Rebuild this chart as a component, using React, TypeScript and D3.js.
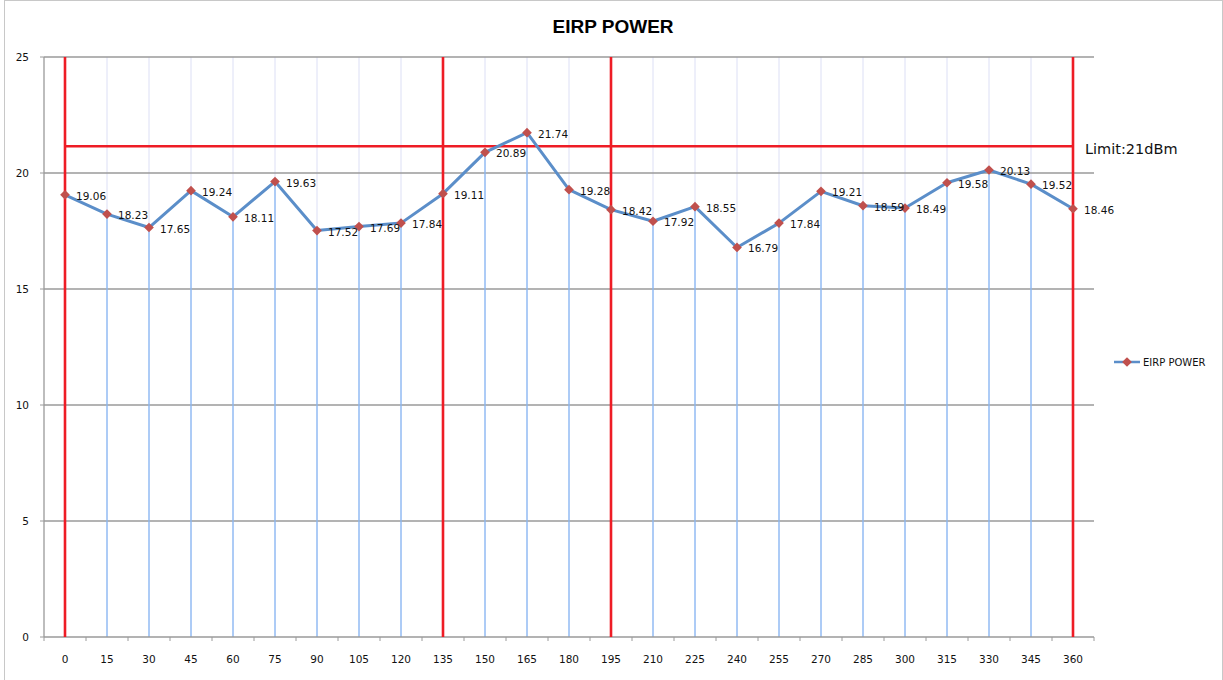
import React from 'react'
import * as d3 from 'd3'

const angles = ['0', '15', '30', '45', '60', '75', '90', '105', '120', '135', '150', '165', '180', '195', '210', '225', '240', '255', '270', '285', '300', '315', '330', '345', '360']
const power = [19.06, 18.23, 17.65, 19.24, 18.11, 19.63, 17.52, 17.69, 17.84, 19.11, 20.89, 21.74, 19.28, 18.42, 17.92, 18.55, 16.79, 17.84, 19.21, 18.59, 18.49, 19.58, 20.13, 19.52, 18.46]
const yTicks = [0, 5, 10, 15, 20, 25]
const redMarkers = ['0', '135', '195', '360']
const limitValue = 21.15
const limitLabel = 'Limit:21dBm'
const seriesName = 'EIRP POWER'

const W = 1223
const H = 680
const left = 44
const right = 1094
const top = 57
const bottom = 637

export default function App() {
  const x = d3.scaleBand().domain(angles).range([left, right]).padding(0)
  const y = d3.scaleLinear().domain([0, 25]).range([bottom, top])
  const cx = (a: string) => (x(a) as number) + x.bandwidth() / 2

  const line = d3.line<number>()
    .x((_, i) => cx(angles[i]))
    .y(d => y(d))

  const diamond = d3.symbol().type(d3.symbolDiamond2).size(60)()

  const font = '"DejaVu Sans", Tahoma, sans-serif'

  return (
    <svg width={W} height={H} style={{ position: 'absolute', left: 0, top: 0, background: '#fff' }} fontFamily={font}>
      <rect x={4.5} y={0.5} width={W - 5} height={H} fill="#fff" stroke="#c8c8c8" />
      <text x={613} y={33} textAnchor="middle" fontSize={19} fontWeight="bold" fill="#000" fontFamily='"Liberation Sans", Arial, sans-serif'>EIRP POWER</text>

      {/* faint vertical gridlines */}
      {angles.map(a => (
        <line key={'vg' + a} x1={cx(a)} x2={cx(a)} y1={top} y2={bottom} stroke="#dcdff5" strokeWidth={1} />
      ))}

      {/* horizontal gridlines */}
      {yTicks.filter(t => t > 0).map(t => (
        <line key={'hg' + t} x1={left} x2={right} y1={y(t)} y2={y(t)} stroke="#9a9a9a" strokeWidth={1.3} />
      ))}

      {/* drop lines */}
      {power.map((v, i) => (
        <line key={'dl' + i} x1={cx(angles[i])} x2={cx(angles[i])} y1={y(v)} y2={bottom} stroke="#8ab8f5" strokeWidth={1.3} />
      ))}

      {/* y axis */}
      <line x1={left} x2={left} y1={top} y2={bottom} stroke="#9a9a9a" strokeWidth={1.3} />
      {yTicks.map(t => (
        <g key={'yt' + t}>
          <line x1={left - 4} x2={left} y1={y(t)} y2={y(t)} stroke="#9a9a9a" />
          <text x={29} y={y(t) + 4} textAnchor="end" fontSize={10.5} fill="#111">{t}</text>
        </g>
      ))}

      {/* x axis */}
      <line x1={left} x2={right} y1={bottom} y2={bottom} stroke="#9a9a9a" strokeWidth={1.3} />
      {angles.map(a => (
        <line key={'xt' + a} x1={x(a) as number} x2={x(a) as number} y1={bottom} y2={bottom + 4} stroke="#9a9a9a" />
      ))}
      <line x1={right} x2={right} y1={bottom} y2={bottom + 4} stroke="#9a9a9a" />
      {angles.map(a => (
        <text key={'xl' + a} x={cx(a)} y={663} textAnchor="middle" fontSize={10.5} fill="#111">{a}</text>
      ))}

      {/* red markers and limit */}
      {redMarkers.map(a => (
        <line key={'rm' + a} x1={cx(a)} x2={cx(a)} y1={top} y2={bottom} stroke="#ee1c25" strokeWidth={2.6} />
      ))}
      <line x1={cx('0')} x2={cx('360')} y1={y(limitValue)} y2={y(limitValue)} stroke="#ee1c25" strokeWidth={2.6} />
      <text x={1085} y={154} fontSize={14.5} fill="#111">{limitLabel}</text>

      {/* series */}
      <path d={line(power) || ''} fill="none" stroke="#5b8ec9" strokeWidth={3} strokeLinejoin="round" />
      {power.map((v, i) => (
        <path key={'pt' + i} d={diamond || ''} transform={`translate(${cx(angles[i])},${y(v)})`} fill="#c0504d" />
      ))}
      {power.map((v, i) => (
        <text key={'lb' + i} x={cx(angles[i]) + 11} y={y(v) + 5} fontSize={10.5} fill="#111">{v.toFixed(2)}</text>
      ))}

      {/* legend */}
      <line x1={1114} x2={1140} y1={362} y2={362} stroke="#5b8ec9" strokeWidth={2.5} />
      <path d={diamond || ''} transform="translate(1127,362)" fill="#c0504d" />
      <text x={1143} y={366} fontSize={10} fill="#111">{seriesName}</text>
    </svg>
  )
}
